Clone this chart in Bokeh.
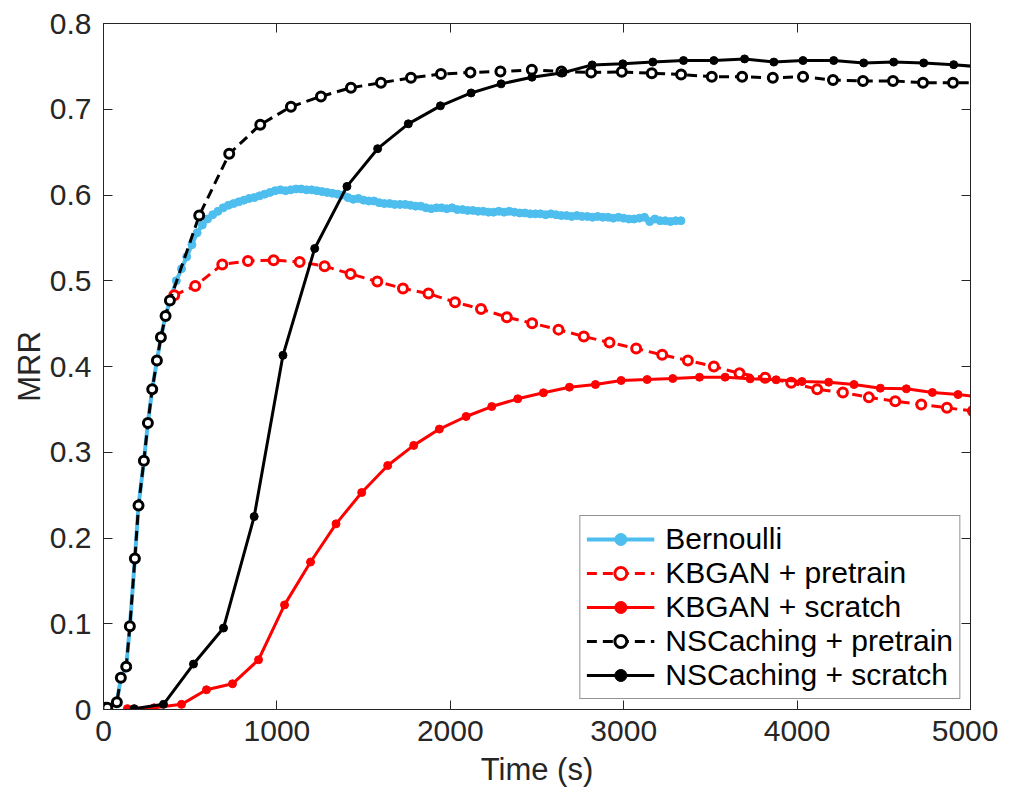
from bokeh.plotting import figure
from bokeh.models import Range1d, LinearAxis, FixedTicker, Legend, LegendItem
from bokeh.embed import file_html
from bokeh.resources import INLINE

# ---------------- data ----------------
# NSCaching + pretrain (black dashed, open markers)
nsc_pre_t = [13, 22, 77, 100, 131, 152, 181, 202, 233, 256, 281, 308, 331, 358, 383,
             552, 725, 904, 1081, 1254, 1427, 1600, 1773, 1946, 2116, 2289, 2470, 2641,
             2812, 2989, 3162, 3331, 3508, 3683, 3860, 4034, 4207, 4380, 4553, 4726, 4899, 5072]
nsc_pre_v = [0.002, 0.002, 0.0085, 0.037, 0.050, 0.097, 0.176, 0.238, 0.290, 0.334, 0.3735,
             0.407, 0.434, 0.459, 0.477,
             0.576, 0.648, 0.682, 0.703, 0.715, 0.725, 0.731, 0.7366, 0.741, 0.7429, 0.744,
             0.746, 0.744, 0.7428, 0.7436, 0.742, 0.7405, 0.738, 0.738, 0.7366, 0.738, 0.734,
             0.733, 0.733, 0.731, 0.731, 0.731]

# NSCaching + scratch (black solid)
nsc_scr_t = [177, 346, 519, 692, 869, 1035, 1218, 1404, 1581, 1758, 1943, 2120, 2293, 2471,
             2649, 2818, 2995, 3168, 3345, 3520, 3697, 3866, 4034, 4211, 4384, 4557, 4730,
             4903, 5078]
nsc_scr_v = [0.001, 0.006, 0.053, 0.095, 0.225, 0.413, 0.5376, 0.610, 0.654, 0.683, 0.704,
             0.719, 0.7296, 0.7374, 0.7425, 0.7517, 0.753, 0.755, 0.7568, 0.7568, 0.7587,
             0.755, 0.7568, 0.7568, 0.754, 0.755, 0.754, 0.752, 0.749]

# KBGAN + pretrain (red dashed, open markers)
kb_pre_t = [408, 529, 685, 833, 981, 1131, 1275, 1425, 1579, 1727, 1874, 2027, 2177, 2326,
            2472, 2624, 2770, 2918, 3072, 3222, 3370, 3520, 3668, 3816, 3966, 4116, 4264,
            4414, 4566, 4716, 4864, 5014]
kb_pre_v = [0.483, 0.494, 0.519, 0.523, 0.524, 0.522, 0.517, 0.508, 0.499, 0.491, 0.485,
            0.475, 0.467, 0.4575, 0.4505, 0.443, 0.435, 0.428, 0.421, 0.4136, 0.407, 0.400,
            0.392, 0.387, 0.381, 0.3735, 0.3697, 0.364, 0.3595, 0.3557, 0.3518, 0.348]

# KBGAN + scratch (red solid)
kb_scr_t = [138, 292, 450, 594, 744, 894, 1044, 1194, 1341, 1489, 1639, 1789, 1937, 2091,
            2239, 2389, 2537, 2687, 2837, 2985, 3135, 3283, 3437, 3585, 3729, 3879, 4028,
            4182, 4328, 4480, 4630, 4780, 4928, 5078]
kb_scr_v = [0.001, 0.002, 0.006, 0.023, 0.030, 0.058, 0.122, 0.172, 0.2165, 0.253, 0.2845,
            0.308, 0.327, 0.3417, 0.3533, 0.3623, 0.3693, 0.3759, 0.379, 0.3837, 0.3848,
            0.386, 0.3875, 0.3876, 0.3856, 0.3845, 0.3825, 0.3817, 0.379, 0.3747, 0.374,
            0.3697, 0.3673, 0.364]

# Bernoulli (cyan, dense)
bern_early_t = [13, 22, 77, 100, 131, 152, 181, 202, 233, 256, 281, 308, 331, 358, 383]
bern_early_v = [0.002, 0.002, 0.0085, 0.037, 0.050, 0.097, 0.176, 0.238, 0.290, 0.334,
                0.3735, 0.407, 0.434, 0.459, 0.477]
bern_late_t = list(range(420, 3331, 30))
bern_late_v = [0.500, 0.514, 0.528, 0.542, 0.556, 0.565, 0.572, 0.577, 0.581, 0.585,
               0.588, 0.590, 0.592, 0.594, 0.596, 0.597, 0.599, 0.601, 0.603, 0.605,
               0.606, 0.605, 0.606, 0.607, 0.607, 0.606, 0.606, 0.605, 0.604, 0.603,
               0.602, 0.601, 0.600, 0.597, 0.595, 0.596, 0.594, 0.593, 0.593, 0.591,
               0.590, 0.590, 0.589, 0.589, 0.589, 0.588, 0.587, 0.587, 0.585, 0.584,
               0.585, 0.585, 0.584, 0.585, 0.583, 0.583, 0.582, 0.582, 0.581, 0.581,
               0.580, 0.580, 0.581, 0.580, 0.581, 0.580, 0.579, 0.579, 0.578, 0.578,
               0.578, 0.577, 0.578, 0.577, 0.576, 0.576, 0.575, 0.576, 0.575, 0.575,
               0.574, 0.575, 0.574, 0.574, 0.573, 0.574, 0.573, 0.572, 0.572, 0.573,
               0.574, 0.569, 0.572, 0.570, 0.570, 0.569, 0.570, 0.570]
bern_t = bern_early_t + bern_late_t
bern_v = bern_early_v + bern_late_v

x_ticks = [0, 1000, 2000, 3000, 4000, 5000]
y_ticks = [0, 0.1, 0.2, 0.3, 0.4, 0.5, 0.6, 0.7, 0.8]
y_tick_labels = ["0", "0.1", "0.2", "0.3", "0.4", "0.5", "0.6", "0.7", "0.8"]

labels = ["Bernoulli", "KBGAN + pretrain", "KBGAN + scratch",
          "NSCaching + pretrain", "NSCaching + scratch"]

# ---------------- style ----------------
CYAN = "#4DBEEE"
RED = "#FF0000"
BLACK = "#000000"
AXC = "#262626"
FONT = "Liberation Sans"
DASH = "10 6"

p = figure(frame_width=867, frame_height=686,
           x_range=Range1d(0, 5000), y_range=Range1d(0, 0.8),
           output_backend="svg", toolbar_location=None,
           min_border_left=103, min_border_right=28, min_border_top=23, min_border_bottom=60,
           background_fill_color="white", border_fill_color="white")
p.grid.visible = False
p.outline_line_color = AXC
p.outline_line_width = 1

# lines + markers
r_b_l = p.line(bern_t, bern_v, line_color=CYAN, line_width=4)
r_b_m = p.scatter(bern_t, bern_v, marker="circle", size=8, fill_color=CYAN, line_color=CYAN)

r_kp_l = p.line(kb_pre_t, kb_pre_v, line_color=RED, line_width=3, line_dash=DASH)
r_kp_m = p.scatter(kb_pre_t, kb_pre_v, marker="circle", size=9, fill_color="white",
                   line_color=RED, line_width=3)

r_ks_l = p.line(kb_scr_t, kb_scr_v, line_color=RED, line_width=3)
r_ks_m = p.scatter(kb_scr_t, kb_scr_v, marker="circle", size=8, fill_color=RED, line_color=RED)

r_np_l = p.line(nsc_pre_t, nsc_pre_v, line_color=BLACK, line_width=3, line_dash=DASH)
r_np_m = p.scatter(nsc_pre_t, nsc_pre_v, marker="circle", size=9, fill_color="white",
                   line_color=BLACK, line_width=3)

r_ns_l = p.line(nsc_scr_t, nsc_scr_v, line_color=BLACK, line_width=3)
r_ns_m = p.scatter(nsc_scr_t, nsc_scr_v, marker="circle", size=8, fill_color=BLACK,
                   line_color=BLACK)

# axes
def style_axis(ax):
    ax.axis_line_color = AXC
    ax.axis_line_width = 1
    ax.major_tick_line_color = AXC
    ax.major_tick_in = 9
    ax.major_tick_out = 0
    ax.minor_tick_line_color = None
    ax.major_label_text_font = FONT
    ax.major_label_text_font_size = "30px"
    ax.major_label_text_color = AXC
    ax.axis_label_text_font = FONT
    ax.axis_label_text_font_size = "31px"
    ax.axis_label_text_font_style = "normal"
    ax.axis_label_text_color = AXC

xa = p.xaxis[0]
xa.ticker = FixedTicker(ticks=x_ticks)
xa.axis_label = "Time (s)"
style_axis(xa)
xa.major_label_standoff = 11
xa.axis_label_standoff = 8

ya = p.yaxis[0]
ya.ticker = FixedTicker(ticks=y_ticks)
ya.major_label_overrides = {t: s for t, s in zip(y_ticks, y_tick_labels)}
ya.axis_label = "MRR"
style_axis(ya)
ya.major_label_standoff = 12
ya.axis_label_standoff = 0

top = LinearAxis(ticker=FixedTicker(ticks=x_ticks),
                 major_label_overrides={t: "" for t in x_ticks})
style_axis(top)
top.major_label_standoff = 0
p.add_layout(top, "above")

right = LinearAxis(ticker=FixedTicker(ticks=y_ticks),
                   major_label_overrides={t: "" for t in y_ticks})
style_axis(right)
right.major_label_standoff = 0
p.add_layout(right, "right")

legend = Legend(items=[
    LegendItem(label=labels[0], renderers=[r_b_l, r_b_m]),
    LegendItem(label=labels[1], renderers=[r_kp_l, r_kp_m]),
    LegendItem(label=labels[2], renderers=[r_ks_l, r_ks_m]),
    LegendItem(label=labels[3], renderers=[r_np_l, r_np_m]),
    LegendItem(label=labels[4], renderers=[r_ns_l, r_ns_m]),
], location="bottom_right")
legend.margin = 10
legend.padding = 6
legend.spacing = 0
legend.glyph_width = 68
legend.glyph_height = 30
legend.label_height = 30
legend.label_standoff = 11
legend.label_text_font = FONT
legend.label_text_font_size = "30px"
legend.label_text_color = BLACK
legend.border_line_color = AXC
legend.border_line_width = 1
legend.background_fill_color = "white"
legend.background_fill_alpha = 1
p.add_layout(legend, "center")

open("out.html", "w").write(file_html(p, INLINE))
